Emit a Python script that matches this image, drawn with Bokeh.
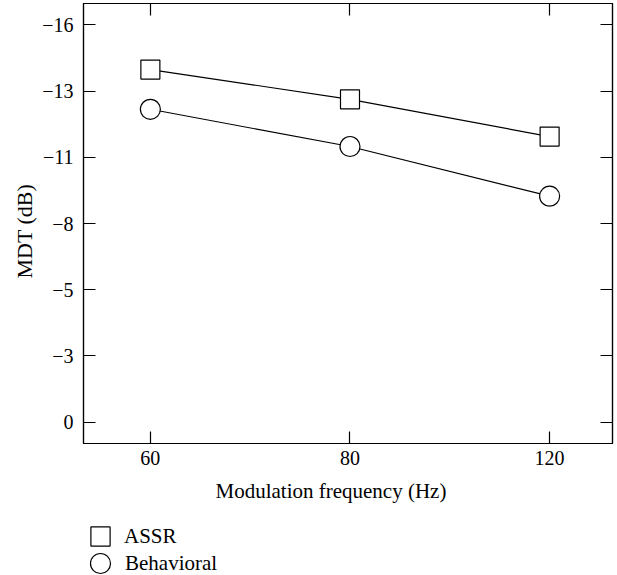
from bokeh.plotting import figure
from bokeh.layouts import column
from bokeh.models import (Range1d, FixedTicker, LinearAxis, CustomJSTickFormatter,
                          Legend, LegendItem, Title)
from bokeh.embed import file_html
from bokeh.resources import INLINE

# Data
freq_labels = ["60", "80", "120"]
x_pos = [0, 1, 2]
assr = [-14.2, -13.0, -11.5]
behavioral = [-12.6, -11.1, -9.1]
y_ticks = [-16, -40 / 3, -32 / 3, -8, -16 / 3, -8 / 3, 0]
series_names = ["ASSR", "Behavioral"]
x_title = "Modulation frequency (Hz)"
y_title = "MDT (dB)"

FONT = "Liberation Serif"
TICK_FS = "20px"
LABEL_FS = "21px"

p = figure(width=617, height=515, output_backend="svg", toolbar_location=None,
           x_range=Range1d(-0.335, 2.315), y_range=Range1d(0.86, -16.86),
           min_border_left=83, min_border_right=5, min_border_top=3, min_border_bottom=72,
           x_axis_location=None, y_axis_location=None)
p.grid.visible = False
p.outline_line_color = "black"
p.outline_line_width = 1.2

fmt = CustomJSTickFormatter(code="""
const v = Math.round(tick);
return v === 0 ? '0' : '\\u2212' + Math.abs(v);
""")

def style(ax, labels=True):
    ax.major_tick_in = 12
    ax.major_tick_out = 0
    ax.minor_tick_in = 0
    ax.minor_tick_out = 0
    ax.major_tick_line_color = "black"
    ax.major_tick_line_width = 1.2
    ax.axis_line_color = "black"
    ax.axis_line_width = 1.2
    ax.major_label_text_font = FONT
    ax.major_label_text_font_size = TICK_FS
    ax.major_label_text_color = "black"
    if not labels:
        ax.major_label_text_alpha = 0
        ax.major_label_standoff = 0

yl = LinearAxis(ticker=FixedTicker(ticks=y_ticks), formatter=fmt)
style(yl)
yl.major_label_standoff = 10
p.add_layout(yl, "left")

yr = LinearAxis(ticker=FixedTicker(ticks=y_ticks), formatter=fmt)
style(yr, labels=False)
p.add_layout(yr, "right")

xb = LinearAxis(ticker=FixedTicker(ticks=x_pos),
                major_label_overrides={i: s for i, s in zip(x_pos, freq_labels)})
style(xb)
xb.major_label_standoff = 7
p.add_layout(xb, "below")

xt = LinearAxis(ticker=FixedTicker(ticks=x_pos),
                major_label_overrides={i: s for i, s in zip(x_pos, freq_labels)})
style(xt, labels=False)
p.add_layout(xt, "above")

# axis titles (as titles so they can sit slightly off-centre like the original)
tx = Title(text=x_title, align="left", offset=132, text_font=FONT,
           text_font_size=LABEL_FS, text_font_style="normal", text_color="black",
           standoff=18)
p.add_layout(tx, "below")
ty = Title(text=y_title, align="left", offset=165, text_font=FONT,
           text_font_size="22px", text_font_style="normal", text_color="black",
           standoff=5)
p.add_layout(ty, "left")

p.line(x_pos, assr, line_color="black", line_width=1.2)
p.line(x_pos, behavioral, line_color="black", line_width=1.2)
p.scatter(x_pos, assr, marker="square", size=19, fill_color="white",
          line_color="black", line_width=1.2)
p.scatter(x_pos, behavioral, marker="circle", size=20, fill_color="white",
          line_color="black", line_width=1.2)

# Legend panel below the plot (its frame is aligned with the plot frame)
lg = figure(width=617, height=60, output_backend="svg", toolbar_location=None,
            x_range=Range1d(0, 1), y_range=Range1d(0, 1),
            min_border_left=0, min_border_right=0, min_border_top=0, min_border_bottom=0,
            x_axis_location=None, y_axis_location=None)
lg.grid.visible = False
lg.outline_line_color = None

# key renderers (their points fall outside this panel's ranges; only the legend keys show)
k1 = lg.scatter(x_pos, assr, marker="square", fill_color="white",
                line_color="black", line_width=1.2)
k2 = lg.scatter(x_pos, behavioral, marker="circle", fill_color="white",
                line_color="black", line_width=1.2)

def make_legend(label, rend, box, loc):
    leg = Legend(items=[LegendItem(label=label, renderers=[rend])], location=loc)
    leg.glyph_width = box
    leg.glyph_height = box
    leg.label_standoff = 0
    leg.label_text_font = FONT
    leg.label_text_font_size = LABEL_FS
    leg.label_text_color = "black"
    leg.border_line_color = None
    leg.background_fill_alpha = 0
    leg.padding = 0
    leg.margin = 0
    leg.spacing = 0
    return leg

lg.add_layout(make_legend(series_names[0], k1, 48, (-7, 15)), "center")
lg.add_layout(make_legend(series_names[1], k2, 50, (-8, -13)), "center")

layout = column(p, lg, spacing=0)
open("out.html", "w").write(file_html(layout, INLINE))
